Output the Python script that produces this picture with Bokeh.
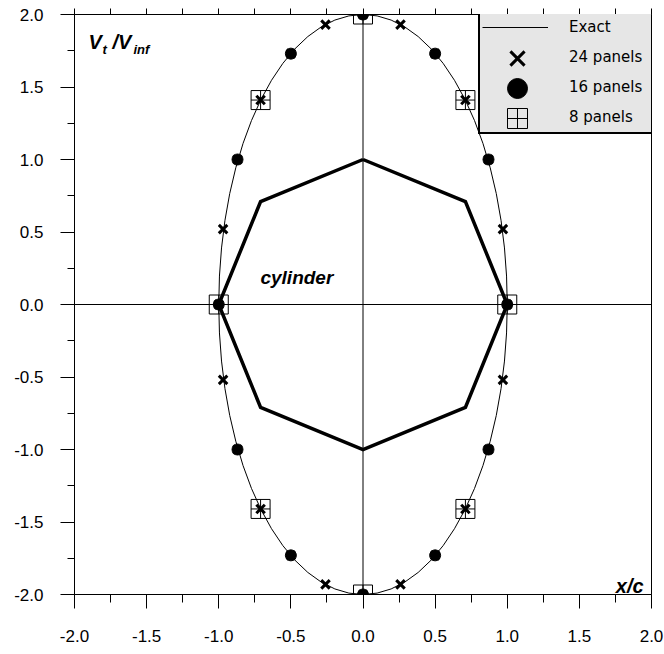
from bokeh.plotting import figure
from bokeh.models import (Range1d, LinearAxis, FixedTicker, Span, Label,
                          Legend, LegendItem)
from bokeh.embed import file_html
from bokeh.resources import INLINE

# ---------------- data ----------------
major_ticks = [-2.0, -1.5, -1.0, -0.5, 0.0, 0.5, 1.0, 1.5, 2.0]
minor_ticks = [-1.75, -1.25, -0.75, -0.25, 0.25, 0.75, 1.25, 1.75]
tick_labels = ["-2.0", "-1.5", "-1.0", "-0.5", "0.0", "0.5", "1.0", "1.5", "2.0"]
top_ticks = [-2.0, -1.75, -1.5, -1.25, -1.0, -0.75, -0.5, -0.25, 0.0,
             0.25, 0.5, 0.75, 1.0, 1.25, 1.5, 1.75, 2.0]

# exact solution: ellipse  x = cos(theta), Vt/Vinf = 2 sin(theta)
exact_cx = [0.0]
exact_cy = [0.0]
exact_w = [2.0]
exact_h = [4.0]

# 24 panels
p24_x = [0.0, 0.26, 0.50, 0.71, 0.87, 0.97, 1.00, 0.97, 0.87, 0.71, 0.50, 0.26,
         0.0, -0.26, -0.50, -0.71, -0.87, -0.97, -1.00, -0.97, -0.87, -0.71, -0.50, -0.26]
p24_y = [2.0, 1.93, 1.73, 1.41, 1.00, 0.52, 0.0, -0.52, -1.00, -1.41, -1.73, -1.93,
         -2.0, -1.93, -1.73, -1.41, -1.00, -0.52, 0.0, 0.52, 1.00, 1.41, 1.73, 1.93]

# 16 panels
p16_x = [0.0, 0.50, 0.87, 1.00, 0.87, 0.50, 0.0, -0.50, -0.87, -1.00, -0.87, -0.50]
p16_y = [2.0, 1.73, 1.00, 0.0, -1.00, -1.73, -2.0, -1.73, -1.00, 0.0, 1.00, 1.73]

# 8 panels
p8_x = [0.0, 0.71, 1.00, 0.71, 0.0, -0.71, -1.00, -0.71]
p8_y = [2.0, 1.41, 0.0, -1.41, -2.0, -1.41, 0.0, 1.41]

# cylinder (8-panel octagon)
cyl_x = [0.0, 0.71, 1.00, 0.71, 0.0, -0.71, -1.00, -0.71, 0.0]
cyl_y = [1.00, 0.71, 0.0, -0.71, -1.00, -0.71, 0.0, 0.71, 1.00]

series_labels = ["Exact", "24 panels", "16 panels", "8 panels"]

# ---------------- figure ----------------
TICK_FONT = "Liberation Sans"
p = figure(width=664, height=654, output_backend="svg", toolbar_location=None,
           x_range=Range1d(-2, 2), y_range=Range1d(-2, 2),
           min_border_left=74, min_border_right=13, min_border_top=14,
           min_border_bottom=60)
p.background_fill_color = "white"
p.border_fill_color = "white"
p.outline_line_color = "black"
p.outline_line_alpha = 1
p.outline_line_width = 1
p.xgrid.visible = False
p.ygrid.visible = False

overrides = {t: l for t, l in zip(major_ticks, tick_labels)}

for ax, tout, mout, stand in ((p.xaxis[0], 14, 8, 21), (p.yaxis[0], 14, 7, 17)):
    ax.ticker = FixedTicker(ticks=major_ticks, minor_ticks=minor_ticks)
    ax.major_label_overrides = overrides
    ax.major_tick_in = 0
    ax.minor_tick_in = 0
    ax.major_tick_out = tout
    ax.minor_tick_out = mout
    ax.major_label_standoff = stand
    ax.major_label_text_font = TICK_FONT
    ax.major_label_text_font_size = "17px"
    ax.major_label_text_color = "black"
    ax.axis_line_color = "black"
    ax.major_tick_line_color = "black"
    ax.minor_tick_line_color = "black"

top = LinearAxis(ticker=FixedTicker(ticks=top_ticks, minor_ticks=[]),
                 major_tick_in=0, major_tick_out=6, minor_tick_out=0,
                 major_label_overrides={t: "" for t in top_ticks},
                 major_label_standoff=0, major_label_text_font_size="10px",
                 axis_line_color="black", major_tick_line_color="black")
p.add_layout(top, "above")

# centre axes
p.add_layout(Span(location=0, dimension="height", line_color="black", line_width=1))
p.add_layout(Span(location=0, dimension="width", line_color="black", line_width=1))

# exact curve
p.ellipse(x=exact_cx, y=exact_cy, width=exact_w, height=exact_h,
          fill_alpha=0, line_color="black", line_width=1)
# single-point line renderers: invisible in the plot, used for legend samples
exact_leg = p.line(x=exact_cx, y=exact_cy, line_color="black", line_width=1)
ghost = p.line(x=exact_cx, y=exact_cy, line_alpha=0)

# cylinder
p.line(x=cyl_x, y=cyl_y, line_color="black", line_width=3.5, line_join="miter")

# markers
r8 = p.scatter(x=p8_x, y=p8_y, marker="square_cross", size=19,
               fill_alpha=0, line_color="black", line_width=1)
r16 = p.scatter(x=p16_x, y=p16_y, marker="circle", size=11,
                fill_color="black", line_color="black")
r24 = p.scatter(x=p24_x, y=p24_y, marker="x", size=12,
                line_color="black", line_width=3)

# legend A: box, text, exact line
leg_a = Legend(items=[LegendItem(label=series_labels[0], renderers=[exact_leg]),
                      LegendItem(label=series_labels[1], renderers=[ghost]),
                      LegendItem(label=series_labels[2], renderers=[ghost]),
                      LegendItem(label=series_labels[3], renderers=[ghost])],
               location=(404, 460), padding=2, spacing=4,
               glyph_width=66, glyph_height=26, label_standoff=21, label_width=83,
               label_text_font="DejaVu Sans", label_text_font_size="15px",
               label_text_color="black", label_height=26,
               background_fill_color="#e6e6e6", background_fill_alpha=1,
               border_line_color="#000000", border_line_alpha=1.0,
               border_line_width=2)
p.add_layout(leg_a)

# larger marker samples, one small legend per marker row
for rend, ycen_bottom in ((r24, 511), (r16, 481), (r8, 451)):
    lg = Legend(items=[LegendItem(label=" ", renderers=[rend])],
                location=(418, ycen_bottom), padding=0, spacing=0,
                glyph_width=50, glyph_height=50, label_standoff=0, label_width=0,
                label_text_font_size="10px",
                background_fill_alpha=0, border_line_alpha=0)
    p.add_layout(lg)

# texts
BI = dict(text_font=TICK_FONT, text_font_style="bold italic", text_color="black",
          text_baseline="alphabetic")
p.add_layout(Label(x=-1.903, y=1.807, text="V", text_font_size="20px", **BI))
p.add_layout(Label(x=-1.806, y=1.759, text="t", text_font_size="13px", **BI))
p.add_layout(Label(x=-1.737, y=1.807, text="/V", text_font_size="20px", **BI))
p.add_layout(Label(x=-1.591, y=1.759, text="inf", text_font_size="13px", **BI))
p.add_layout(Label(x=-0.711, y=0.186, text="cylinder", text_font_size="19px", **BI))
p.add_layout(Label(x=1.945, y=-1.938, text="x/c", text_font_size="20px",
                   text_align="right", **BI))

open("out.html", "w").write(file_html(p, INLINE))
